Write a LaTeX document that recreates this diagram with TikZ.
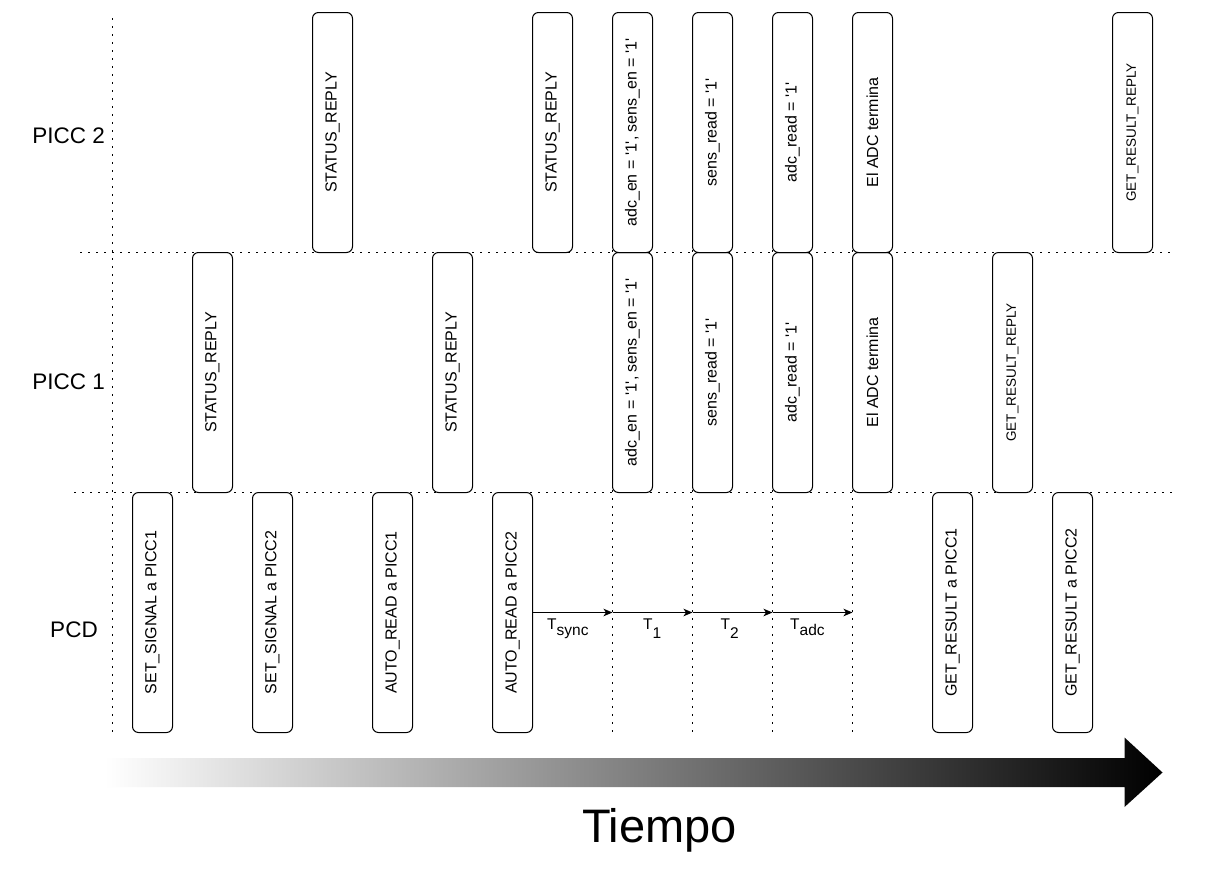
\documentclass[tikz,border=0pt]{standalone}
\usepackage{fontspec}
\setmainfont{Liberation Sans}
\usetikzlibrary{arrows.meta}
\newcommand{\sqt}{\textquotesingle}
\begin{document}
\begin{tikzpicture}[x=1pt,y=-1pt,
  evbox/.style={draw, line width=1pt, rounded corners=6pt, rotate=90,
    minimum width=240pt, minimum height=40pt, inner sep=0pt,
    font=\fontsize{16}{18}\selectfont},
  smallbox/.style={evbox, font=\fontsize{13.5}{16}\selectfont},
  dotline/.style={line width=1.8pt, dash pattern=on 1.8pt off 6.2pt},
  tarrow/.style={line width=1pt, -{Stealth[length=9pt,width=7.5pt,inset=2.5pt]}},
  tlab/.style={anchor=base west, inner sep=0pt, font=\fontsize{15.5}{18}\selectfont},
  rowlab/.style={inner sep=0pt, font=\fontsize{22.5}{26}\selectfont},
]
\path[fill=white, use as bounding box] (0,0) rectangle (1210,868);

% dotted grid lines
\coordinate (h1l) at (80,252.5);  \coordinate (h1r) at (1173,252.5);
\coordinate (h2l) at (74,492.5);  \coordinate (h2r) at (1173,492.5);
\coordinate (v0t) at (112.5,18);  \coordinate (v0b) at (112.5,732);
\coordinate (v1t) at (612.5,18);  \coordinate (v1b) at (612.5,732);
\coordinate (v2t) at (692.5,18);  \coordinate (v2b) at (692.5,732);
\coordinate (v3t) at (772.5,18);  \coordinate (v3b) at (772.5,732);
\coordinate (v4t) at (852.5,18);  \coordinate (v4b) at (852.5,732);
\draw[dotline] (h1l) -- (h1r);
\draw[dotline] (h2l) -- (h2r);
\draw[dotline] (v0t) -- (v0b);
\draw[dotline] (v1t) -- (v1b);
\draw[dotline] (v2t) -- (v2b);
\draw[dotline] (v3t) -- (v3b);
\draw[dotline] (v4t) -- (v4b);

% row labels
\node[rowlab, anchor=base east] (rp2) at (105,143) {PICC 2};
\node[rowlab, anchor=base east] (rp1) at (105,389.5) {PICC 1};
\node[rowlab, anchor=base] (rpcd) at (74,637) {PCD};

% PCD row
\node[evbox] (a1) at (152.5,612.5) {SET\_SIGNAL a PICC1};
\node[evbox] (a2) at (272.5,612.5) {SET\_SIGNAL a PICC2};
\node[evbox] (a3) at (392.5,612.5) {AUTO\_READ a PICC1};
\node[evbox] (a4) at (512.5,612.5) {AUTO\_READ a PICC2};
\node[evbox] (a5) at (952.5,612.5) {GET\_RESULT a PICC1};
\node[evbox] (a6) at (1072.5,612.5) {GET\_RESULT a PICC2};

% PICC 1 row
\node[evbox] (b1) at (212.5,372.5) {STATUS\_REPLY};
\node[evbox] (b2) at (452.5,372.5) {STATUS\_REPLY};
\node[evbox] (b3) at (632.5,372.5) {adc\_en = \sqt1\sqt, sens\_en = \sqt1\sqt};
\node[evbox] (b4) at (712.5,372.5) {sens\_read = \sqt1\sqt};
\node[evbox] (b5) at (792.5,372.5) {adc\_read = \sqt1\sqt};
\node[evbox] (b6) at (872.5,372.5) {El ADC termina};
\node[smallbox] (b7) at (1012.5,372.5) {GET\_RESULT\_REPLY};

% PICC 2 row
\node[evbox] (c1) at (332.5,132.5) {STATUS\_REPLY};
\node[evbox] (c2) at (552.5,132.5) {STATUS\_REPLY};
\node[evbox] (c3) at (632.5,132.5) {adc\_en = \sqt1\sqt, sens\_en = \sqt1\sqt};
\node[evbox] (c4) at (712.5,132.5) {sens\_read = \sqt1\sqt};
\node[evbox] (c5) at (792.5,132.5) {adc\_read = \sqt1\sqt};
\node[evbox] (c6) at (872.5,132.5) {El ADC termina};
\node[smallbox] (c7) at (1132.5,132.5) {GET\_RESULT\_REPLY};

% timing arrows
\coordinate (m1) at (612.5,612.5);
\coordinate (m2) at (692.5,612.5);
\coordinate (m3) at (772.5,612.5);
\coordinate (m4) at (852.5,612.5);
\draw[tarrow] (a4.south) -- (m1);
\draw[tarrow] (m1) -- (m2);
\draw[tarrow] (m2) -- (m3);
\draw[tarrow] (m3) -- (m4);
\node[tlab] (l1) at (547,629) {T\raisebox{-6pt}{sync}};
\node[tlab] (l2) at (643,629) {T\raisebox{-9.5pt}{1}};
\node[tlab] (l3) at (720.5,629) {T\raisebox{-9.5pt}{2}};
\node[tlab] (l4) at (790,629) {T\raisebox{-6pt}{adc}};

% time arrow
\shade[left color=white, right color=black]
  (105,758) -- (1124.5,758) -- (1124.5,737.5) -- (1162.5,772.5)
  -- (1124.5,807) -- (1124.5,787) -- (105,787) -- cycle;
\node[inner sep=0pt, anchor=base, font=\fontsize{47}{52}\selectfont] (tiempo) at (659.5,842) {Tiempo};
\end{tikzpicture}
\end{document}
